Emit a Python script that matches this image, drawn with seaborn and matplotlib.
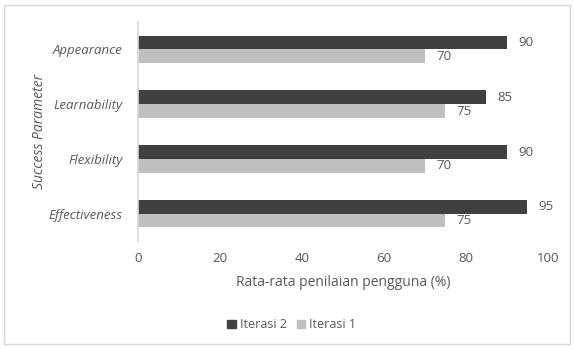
import pandas as pd
import numpy as np
import matplotlib
matplotlib.use("Agg")
import matplotlib.pyplot as plt
import seaborn as sns
from matplotlib.patches import Rectangle

# data
parameters = ['Appearance', 'Learnability', 'Flexibility', 'Effectiveness']
iterasi_2 = [90, 85, 90, 95]
iterasi_1 = [70, 75, 70, 75]
series_names = ['Iterasi 2', 'Iterasi 1']
x_ticks = [0, 20, 40, 60, 80, 100]

df = pd.DataFrame({
    'Parameter': parameters * 2,
    'Nilai': iterasi_2 + iterasi_1,
    'Iterasi': [series_names[0]] * len(parameters) + [series_names[1]] * len(parameters),
})

sns.set_style('white')
plt.rcParams['font.family'] = ['Open Sans', 'DejaVu Sans']
txt = '#595959'

fig = plt.figure(figsize=(5.74, 3.49), dpi=100)
ax = fig.add_axes([0.2404, 0.309, 0.7143, 0.628])

sns.barplot(data=df, y='Parameter', x='Nilai', hue='Iterasi', orient='h',
            order=parameters, hue_order=series_names,
            palette=['#404040', '#bfbfbf'], width=0.5, linewidth=0, ax=ax, legend=False)

for cont in ax.containers:
    ax.bar_label(cont, padding=8, fontsize=9.5, color=txt)

ax.set_xlim(0, 100)
ax.set_ylim(3.5, -0.5)
ax.set_xticks(x_ticks)
ax.tick_params(axis='both', length=0, labelsize=9.5, colors=txt)
ax.tick_params(axis='y', pad=11)
ax.tick_params(axis='x', pad=8)
for lab in ax.get_yticklabels():
    lab.set_fontstyle('italic')
ax.set_xlabel('Rata-rata penilaian pengguna (%)', fontsize=10, color=txt, labelpad=7)
ax.set_ylabel('Success Parameter', fontsize=10, color=txt, fontstyle='italic', labelpad=1)

for s in ['top', 'right', 'bottom']:
    ax.spines[s].set_visible(False)
ax.spines['left'].set_color('#d9d9d9')
ax.spines['left'].set_linewidth(1.2)

handles = [Rectangle((0, 0), 1, 1, color=c) for c in ['#404040', '#bfbfbf']]
fig.legend(handles, series_names, loc='center', bbox_to_anchor=(0.508, 0.069), ncol=2,
           frameon=False, fontsize=9, labelcolor=txt, handlelength=0.7, handleheight=0.7,
           handletextpad=0.3, columnspacing=0.8)

fig.patches.append(Rectangle((0.007, 0.014), 0.986, 0.972, transform=fig.transFigure,
                             fill=False, edgecolor='#d9d9d9', linewidth=1))

fig.savefig('out.png', dpi=100)
